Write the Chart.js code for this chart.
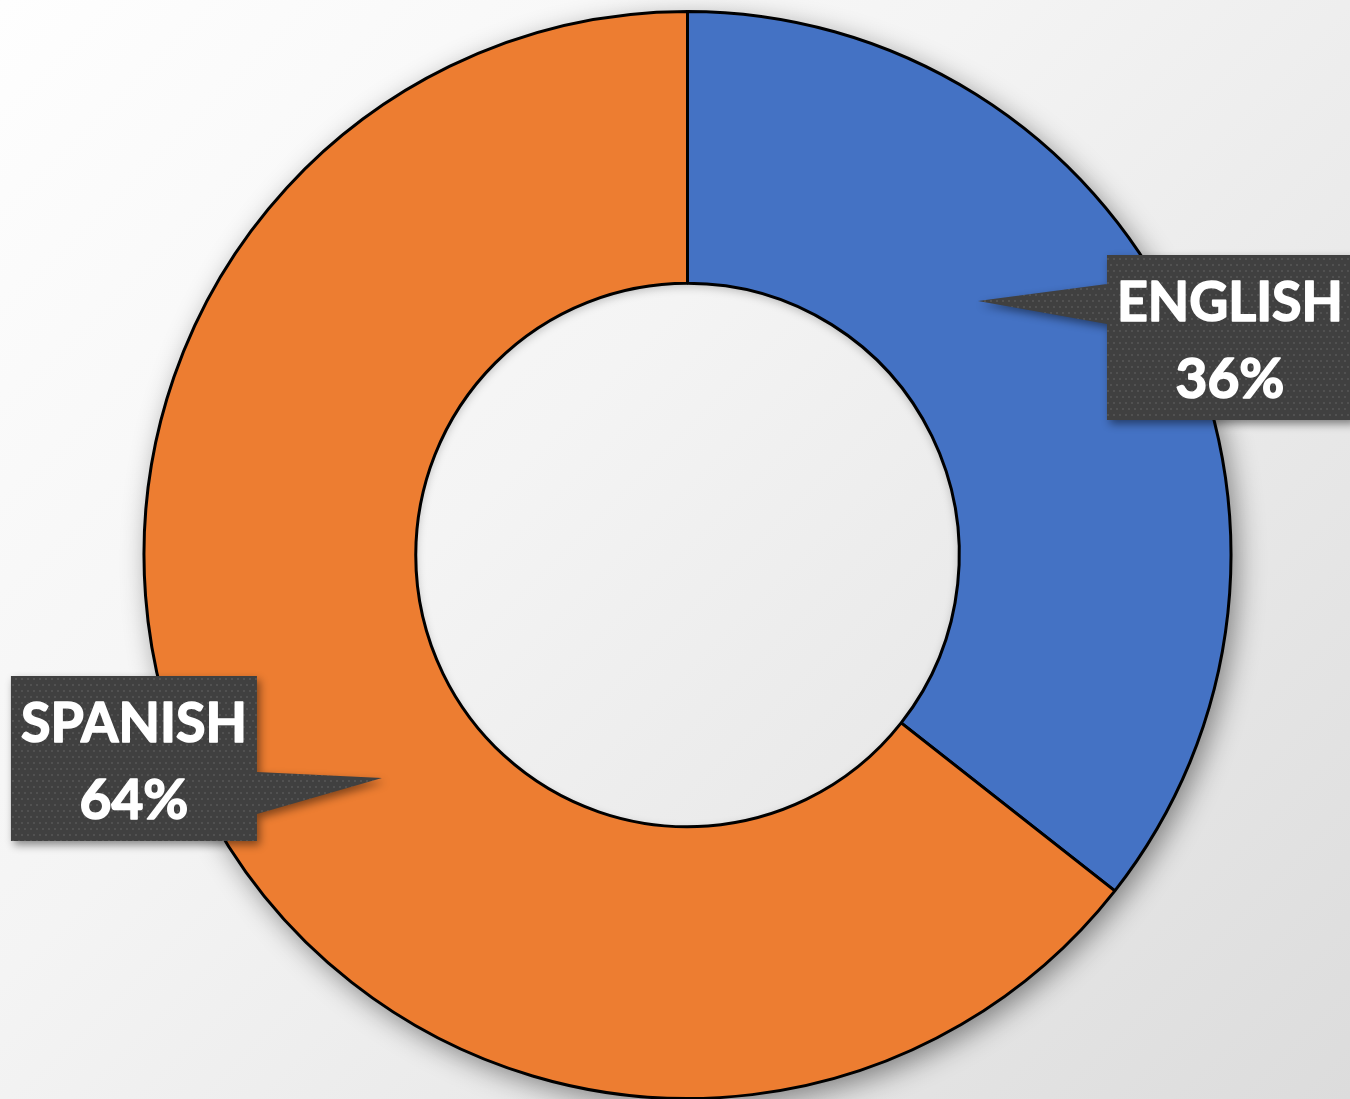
<!DOCTYPE html>
<html>
<head>
<meta charset="utf-8">
<script src="https://cdn.jsdelivr.net/npm/chart.js@4.4.1/dist/chart.umd.min.js"></script>
<style>
  html, body { margin: 0; padding: 0; width: 1350px; height: 1099px; overflow: hidden; }
  body { background: linear-gradient(135deg, #fefefe 0%, #f4f4f4 40%, #dcdcdc 100%); }
  #wrap { position: absolute; left: 0; top: 0; width: 1350px; height: 1100px; }
</style>
</head>
<body>
<div id="wrap"><canvas id="c"></canvas></div>
<script>
const categories = ['English', 'Spanish'];
const values = [35.6, 64.4];
const colors = ['#4472C4', '#ED7D31'];

// callout layout: where along each arc the pointer tip sits, and box placement relative to tip
const callouts = [
  { frac: 0.381, rFrac: 0.71, boxDx: 129, boxDy: -46, pointerSide: 'left', baseY0: -17, baseY1: 23 },
  { frac: 0.456, rFrac: 0.696, boxDx: -371, boxDy: -102, pointerSide: 'right', baseY0: -6, baseY1: 36 }
];
const BOX_W = 246, BOX_H = 165;

const shadowPlugin = {
  id: 'ringShadow',
  beforeDatasetsDraw(chart) {
    const arc = chart.getDatasetMeta(0).data[0];
    if (!arc) return;
    const { x, y, outerRadius, innerRadius } = arc.getProps(['x', 'y', 'outerRadius', 'innerRadius'], true);
    const ctx = chart.ctx;
    ctx.save();
    ctx.beginPath();
    ctx.rect(0, 0, chart.width, chart.height);
    ctx.arc(x, y, innerRadius, 0, Math.PI * 2);
    ctx.clip('evenodd');
    ctx.shadowColor = 'rgba(0,0,0,0.45)';
    ctx.shadowBlur = 28;
    ctx.shadowOffsetX = 6;
    ctx.shadowOffsetY = 8;
    ctx.beginPath();
    ctx.arc(x, y, outerRadius, 0, Math.PI * 2);
    ctx.fillStyle = '#888';
    ctx.fill();
    ctx.restore();
    // subtle inner shadow inside the hole
    ctx.save();
    ctx.beginPath();
    ctx.arc(x, y, innerRadius, 0, Math.PI * 2);
    ctx.clip();
    ctx.beginPath();
    ctx.rect(x - innerRadius - 100, y - innerRadius - 100, innerRadius * 2 + 200, innerRadius * 2 + 200);
    ctx.arc(x, y, innerRadius, 0, Math.PI * 2);
    ctx.shadowColor = 'rgba(0,0,0,0.25)';
    ctx.shadowBlur = 10;
    ctx.shadowOffsetX = 0;
    ctx.shadowOffsetY = 3;
    ctx.fillStyle = '#666';
    ctx.fill('evenodd');
    ctx.restore();
  }
};

const calloutPlugin = {
  id: 'callouts',
  afterDatasetsDraw(chart) {
    const ctx = chart.ctx;
    const meta = chart.getDatasetMeta(0);
    const total = values.reduce((a, b) => a + b, 0);
    meta.data.forEach((arc, i) => {
      const c = callouts[i];
      const p = arc.getProps(['x', 'y', 'startAngle', 'endAngle', 'outerRadius'], true);
      const ang = p.startAngle + c.frac * (p.endAngle - p.startAngle);
      const tx = p.x + Math.cos(ang) * p.outerRadius * c.rFrac;
      const ty = p.y + Math.sin(ang) * p.outerRadius * c.rFrac;
      const bx = tx + c.boxDx, by = ty + c.boxDy;
      const edgeX = c.pointerSide === 'left' ? bx : bx + BOX_W;

      const path = () => {
        ctx.beginPath();
        ctx.rect(bx, by, BOX_W, BOX_H);
        ctx.moveTo(edgeX, ty + c.baseY0);
        ctx.lineTo(tx, ty);
        ctx.lineTo(edgeX, ty + c.baseY1);
        ctx.closePath();
      };
      ctx.save();
      ctx.shadowColor = 'rgba(0,0,0,0.45)';
      ctx.shadowBlur = 8;
      ctx.shadowOffsetX = 3;
      ctx.shadowOffsetY = 4;
      ctx.fillStyle = '#404040';
      path();
      ctx.fill('nonzero');
      ctx.restore();

      // dotted texture
      ctx.save();
      path();
      ctx.clip('nonzero');
      ctx.fillStyle = 'rgba(255,255,255,0.09)';
      const minX = Math.min(tx, bx), maxX = Math.max(tx, bx + BOX_W);
      for (let xx = Math.floor(minX / 6) * 6; xx < maxX; xx += 6) {
        for (let yy = Math.floor(by / 6) * 6; yy < by + BOX_H; yy += 6) {
          ctx.fillRect(xx + ((yy / 6) % 2 ? 3 : 0), yy, 2, 2);
        }
      }
      ctx.restore();

      // text
      ctx.save();
      ctx.fillStyle = '#ffffff';
      ctx.strokeStyle = '#ffffff';
      ctx.lineWidth = 1.6;
      ctx.lineJoin = 'round';
      ctx.textAlign = 'center';
      ctx.textBaseline = 'alphabetic';
      ctx.font = 'bold 55px Lato, "Open Sans", sans-serif';
      const cx = bx + BOX_W / 2;
      const t1 = categories[i].toUpperCase();
      const t2 = Math.round(values[i] / total * 100) + '%';
      ctx.fillText(t1, cx, by + 66, BOX_W - 20);
      ctx.strokeText(t1, cx, by + 66, BOX_W - 20);
      ctx.fillText(t2, cx, by + 143);
      ctx.strokeText(t2, cx, by + 143);
      ctx.restore();
    });
  }
};

new Chart(document.getElementById('c'), {
  type: 'doughnut',
  data: {
    labels: categories,
    datasets: [{
      data: values,
      backgroundColor: colors,
      borderColor: '#000000',
      borderWidth: 3,
      borderAlign: 'center'
    }]
  },
  options: {
    responsive: true,
    maintainAspectRatio: false,
    animation: false,
    cutout: '50%',
    layout: { padding: { top: 10, left: 25, right: 0, bottom: 0 } },
    plugins: {
      legend: { display: false },
      tooltip: { enabled: false }
    }
  },
  plugins: [shadowPlugin, calloutPlugin]
});
</script>
</body>
</html>
